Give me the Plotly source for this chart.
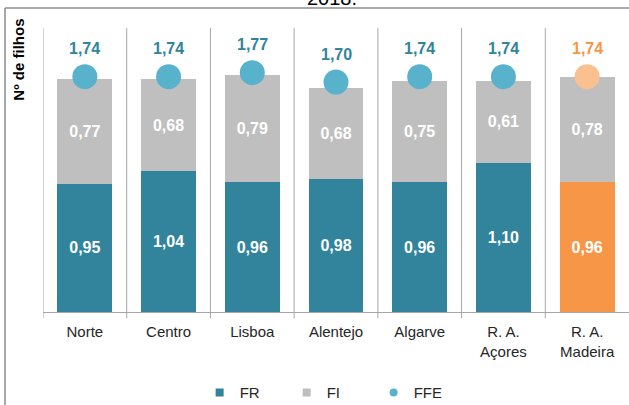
import plotly.graph_objects as go

categories = ["Norte", "Centro", "Lisboa", "Alentejo", "Algarve", "R. A.<br>Açores", "R. A.<br>Madeira"]
fr_values = [0.95, 1.04, 0.96, 0.98, 0.96, 1.10, 0.96]
fi_values = [0.77, 0.68, 0.79, 0.68, 0.75, 0.61, 0.78]
ffe_values = [1.74, 1.74, 1.77, 1.70, 1.74, 1.74, 1.74]
highlight = [False, False, False, False, False, False, True]

TEAL = "#31849B"
GRAY = "#BFBFBF"
LIGHTBLUE = "#59B2CC"
ORANGE = "#F79646"
LIGHTORANGE = "#FAC090"
FONT = "Liberation Sans, Arial, sans-serif"

fr_colors = [ORANGE if h else TEAL for h in highlight]
ffe_colors = [LIGHTORANGE if h else LIGHTBLUE for h in highlight]
label_colors = [ORANGE if h else TEAL for h in highlight]

fig = go.Figure()
fig.add_bar(x=categories, y=fr_values, name="FR", marker=dict(color=fr_colors, line_width=0),
            texttemplate="%{y:.2f}", textposition="inside", insidetextanchor="middle",
            textangle=0, textfont=dict(color="white", size=16, family=FONT, weight="bold"),
            showlegend=False)
fig.add_bar(x=categories, y=fi_values, name="FI", marker=dict(color=GRAY, line_width=0),
            texttemplate="%{y:.2f}", textposition="inside", insidetextanchor="middle",
            textangle=0, textfont=dict(color="white", size=16, family=FONT, weight="bold"),
            showlegend=False)
fig.add_scatter(x=categories, y=ffe_values, name="FFE", mode="markers",
                marker=dict(color=ffe_colors, size=25, line_width=0), showlegend=False)

# legend proxies
fig.add_scatter(x=[None], y=[None], name="FR", mode="markers",
                marker=dict(color=TEAL, size=8, symbol="square"))
fig.add_scatter(x=[None], y=[None], name="FI", mode="markers",
                marker=dict(color=GRAY, size=8, symbol="square"))
fig.add_scatter(x=[None], y=[None], name="FFE", mode="markers",
                marker=dict(color=LIGHTBLUE, size=8))

for c, v, col in zip(categories, ffe_values, label_colors):
    fig.add_annotation(x=c, y=v, yshift=28, text=f"{v:.2f}".replace(".", ","), showarrow=False,
                       font=dict(color=col, size=16, family=FONT, weight="bold"))

# category separators
for i in range(len(categories)):
    fig.add_shape(type="line", xref="x", yref="paper", x0=i - 0.5, x1=i - 0.5, y0=-0.022, y1=1,
                  line=dict(color="#A6A6A6", width=1))

# outer frame (left and top edges)
fig.add_shape(type="line", xref="paper", yref="paper", x0=-0.0648, x1=-0.0648, y0=-0.4, y1=1.0704,
              line=dict(color="#8C8C8C", width=1.5))
fig.add_shape(type="line", xref="paper", yref="paper", x0=-0.0648, x1=1.05, y0=1.0704, y1=1.0704,
              line=dict(color="#8C8C8C", width=1.5))

fig.add_annotation(text="2018.", xref="paper", yref="paper", x=0.493, y=1.105, showarrow=False,
                   font=dict(size=20, color="black", family=FONT), xanchor="center", yanchor="middle")
fig.add_annotation(text="<b>Nº de filhos</b>", xref="paper", yref="paper", x=-0.042, y=0.89,
                   showarrow=False, textangle=-90, xanchor="center", yanchor="middle",
                   font=dict(size=15, color="black", family=FONT))

fig.update_layout(
    width=629, height=405,
    margin=dict(l=43, r=0, t=28, b=93),
    barmode="stack", bargap=0.345,
    separators=",.",
    plot_bgcolor="white", paper_bgcolor="white",
    font=dict(family=FONT, size=15, color="#262626"),
    xaxis=dict(showline=True, linecolor="#A6A6A6", linewidth=1, showgrid=False,
               tickfont=dict(size=15, color="#262626", family=FONT), ticks="",
               ticklabelstandoff=6, range=[-0.5, 6.5]),
    yaxis=dict(range=[0, 2.1], showgrid=False, showticklabels=False, zeroline=False,
               showline=False),
    legend=dict(orientation="h", x=0.49, xanchor="center", yref="container", y=0.03,
                yanchor="middle",
                font=dict(size=15, color="#262626", family=FONT), entrywidth=42,
                itemwidth=30, traceorder="normal"),
)

fig.write_html("out.html", config={"displayModeBar": False},
               post_script="document.body.style.margin='0';")
